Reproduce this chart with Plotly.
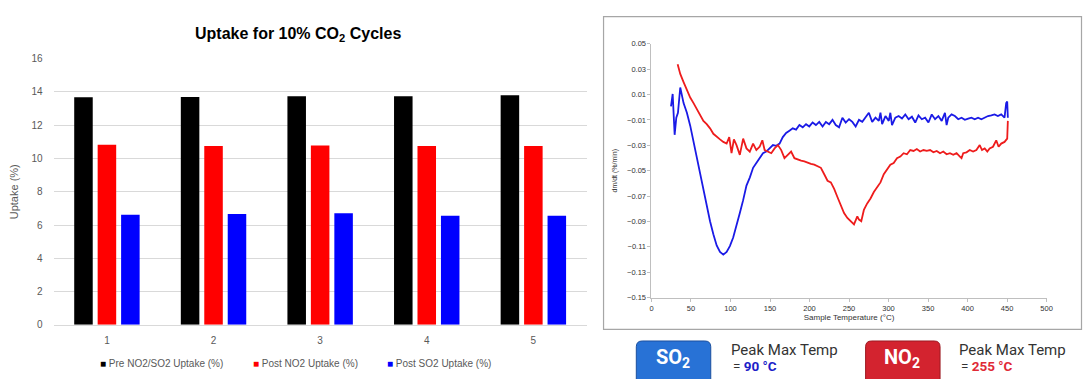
import plotly.graph_objects as go

W, H = 1088, 379

# ---------------- Left chart data ----------------
cycles = ["1", "2", "3", "4", "5"]
pre_uptake = [13.68, 13.70, 13.75, 13.75, 13.80]
post_no2_uptake = [10.82, 10.75, 10.78, 10.75, 10.75]
post_so2_uptake = [6.62, 6.66, 6.70, 6.56, 6.55]
series_names = ["Pre NO2/SO2 Uptake (%)", "Post NO2 Uptake (%)", "Post SO2 Uptake (%)"]
series_colors = ["#000000", "#ff0000", "#0000ff"]

# ---------------- Right chart data (DTG curves) ----------------
so2_temp = [24.7, 26.8, 29.3, 31.4, 33.5, 36.4, 40.6, 44.8, 49.0, 53.2, 57.4, 61.6, 65.7, 69.9,
            74.1, 78.3, 82.5, 86.7, 90.9, 95.1, 99.2, 103.4, 107.6, 111.8, 116.0, 120.2, 124.4,
            128.6, 132.7, 136.9, 141.1, 145.3, 149.5, 153.7, 157.9, 162.1, 166.2, 170.4, 174.6,
            178.8, 183.0, 187.2, 191.4, 195.6, 199.7, 203.9, 208.1, 212.3, 216.5, 220.7, 224.9,
            229.1, 233.2, 237.4, 241.6, 245.8, 250.0, 254.2, 258.4, 262.6, 266.8, 270.9, 275.1,
            279.3, 283.5, 287.7, 289.8, 291.9, 296.1, 300.3, 302.3, 304.4, 308.6, 312.8, 317.0,
            321.2, 325.4, 329.6, 333.8, 337.9, 342.1, 346.3, 350.5, 354.7, 358.9, 363.1, 367.3,
            371.4, 373.5, 375.6, 379.8, 384.0, 388.2, 392.4, 396.6, 400.8, 404.9, 409.1, 413.3,
            417.5, 421.7, 425.9, 430.1, 434.2, 438.4, 442.6, 446.8, 448.9, 450.2, 451.0]
so2_dmdt = [0.0008, 0.0105, -0.0217, -0.0082, -0.0043, 0.0156, 0.0033, -0.0043, -0.0145, -0.0273,
            -0.0401, -0.0528, -0.0656, -0.0783, -0.0898, -0.1000, -0.1089, -0.1140, -0.1161,
            -0.1140, -0.1094, -0.1026, -0.0936, -0.0834, -0.0732, -0.0617, -0.0554, -0.0477,
            -0.0439, -0.0395, -0.0362, -0.0349, -0.0324, -0.0298, -0.0304, -0.0286, -0.0235,
            -0.0202, -0.0184, -0.0166, -0.0176, -0.0140, -0.0158, -0.0133, -0.0151, -0.0120,
            -0.0140, -0.0115, -0.0151, -0.0115, -0.0133, -0.0099, -0.0140, -0.0158, -0.0082,
            -0.0120, -0.0094, -0.0115, -0.0151, -0.0099, -0.0115, -0.0082, -0.0043, -0.0115,
            -0.0082, -0.0107, -0.0043, -0.0133, -0.0069, -0.0107, -0.0043, -0.0140, -0.0082,
            -0.0069, -0.0089, -0.0056, -0.0094, -0.0074, -0.0120, -0.0064, -0.0094, -0.0082,
            -0.0120, -0.0056, -0.0094, -0.0069, -0.0107, -0.0043, -0.0140, -0.0082, -0.0056,
            -0.0069, -0.0094, -0.0082, -0.0099, -0.0089, -0.0082, -0.0094, -0.0082, -0.0094,
            -0.0082, -0.0069, -0.0064, -0.0056, -0.0069, -0.0056, -0.0082, 0.0033, 0.0046, -0.0082]

no2_temp = [33.1, 36.4, 40.6, 44.8, 49.0, 53.2, 57.4, 61.6, 65.7, 69.9, 74.1, 78.3, 82.5, 86.7,
            90.9, 95.1, 98.4, 101.3, 104.3, 107.6, 111.8, 116.0, 120.2, 124.4, 128.6, 132.7,
            136.9, 140.3, 143.2, 147.4, 151.6, 155.8, 160.0, 164.2, 168.3, 172.5, 176.7, 180.9,
            185.1, 189.3, 193.5, 197.7, 201.8, 206.0, 210.2, 214.4, 218.6, 222.8, 227.0, 231.2,
            235.3, 239.5, 243.7, 247.9, 252.1, 256.3, 260.5, 262.6, 265.5, 268.8, 273.0, 277.2,
            281.4, 285.6, 289.8, 294.0, 298.2, 302.3, 306.5, 310.7, 314.9, 319.1, 323.3, 327.5,
            331.7, 335.8, 340.0, 344.2, 348.4, 352.6, 356.8, 361.0, 365.2, 369.3, 373.5, 377.7,
            381.9, 386.1, 390.3, 392.4, 394.5, 398.7, 402.8, 407.0, 411.2, 415.4, 418.3, 421.7,
            425.0, 428.0, 432.2, 436.3, 439.3, 442.6, 446.8, 450.2, 451.0]
no2_dmdt = [0.0339, 0.0263, 0.0199, 0.0135, 0.0077, 0.0033, -0.0018, -0.0069, -0.0107, -0.0133,
            -0.0166, -0.0209, -0.0235, -0.0253, -0.0273, -0.0286, -0.0235, -0.0362, -0.0253,
            -0.0298, -0.0375, -0.0247, -0.0324, -0.0349, -0.0286, -0.0337, -0.0311, -0.0260,
            -0.0337, -0.0349, -0.0362, -0.0324, -0.0298, -0.0337, -0.0401, -0.0375, -0.0349,
            -0.0401, -0.0413, -0.0421, -0.0426, -0.0439, -0.0446, -0.0452, -0.0464, -0.0477,
            -0.0528, -0.0579, -0.0592, -0.0643, -0.0707, -0.0770, -0.0834, -0.0872, -0.0898,
            -0.0923, -0.0860, -0.0885, -0.0898, -0.0809, -0.0758, -0.0719, -0.0668, -0.0630,
            -0.0592, -0.0528, -0.0490, -0.0452, -0.0439, -0.0401, -0.0388, -0.0362, -0.0370,
            -0.0337, -0.0344, -0.0329, -0.0349, -0.0337, -0.0344, -0.0337, -0.0355, -0.0344,
            -0.0362, -0.0349, -0.0370, -0.0362, -0.0375, -0.0362, -0.0388, -0.0401, -0.0362,
            -0.0355, -0.0337, -0.0349, -0.0337, -0.0298, -0.0337, -0.0324, -0.0349, -0.0324,
            -0.0311, -0.0260, -0.0311, -0.0286, -0.0273, -0.0247, -0.0107]

peak_so2 = "90 °C"
peak_no2 = "255 °C"


def px(x):
    return x / W


def py(y):
    return 1 - y / H


fig = go.Figure()

for name, vals, col in zip(series_names, [pre_uptake, post_no2_uptake, post_so2_uptake], series_colors):
    fig.add_trace(go.Bar(x=cycles, y=vals, name=name, marker=dict(color=col, line=dict(width=0)),
                         xaxis="x", yaxis="y", showlegend=False))

fig.add_trace(go.Scatter(x=so2_temp, y=so2_dmdt, mode="lines", line=dict(color="#1a1ae6", width=1.8),
                         xaxis="x2", yaxis="y2", showlegend=False, name="SO2"))
fig.add_trace(go.Scatter(x=no2_temp, y=no2_dmdt, mode="lines", line=dict(color="#ee1c1c", width=1.8),
                         xaxis="x2", yaxis="y2", showlegend=False, name="NO2"))

tick_font_left = dict(family="Liberation Sans, Arial", size=10, color="#595959")
tick_font_right = dict(family="Liberation Sans, Arial", size=7.5, color="#333333")

fig.update_layout(
    width=W, height=H, autosize=False,
    margin=dict(l=0, r=0, t=0, b=0),
    paper_bgcolor="white", plot_bgcolor="white",
    barmode="group", bargap=0.34, bargroupgap=0.21,
    xaxis=dict(domain=[px(52), px(589)], anchor="y", showgrid=False, showline=True,
               linecolor="#d9d9d9", linewidth=1, ticks="", tickfont=tick_font_left,
               ticklabelstandoff=6, fixedrange=True),
    yaxis=dict(domain=[py(328.3), py(54.3)], anchor="x", range=[0, 16], dtick=2,
               showgrid=True, gridcolor="#d9d9d9", gridwidth=1, zeroline=False,
               showline=False, ticks="", tickfont=tick_font_left, ticklabelstandoff=10,
               title=dict(text="Uptake (%)", font=dict(family="Liberation Sans, Arial", size=11,
                                                        color="#595959"), standoff=10)),
    xaxis2=dict(domain=[px(654.3), px(1052.3)], anchor="y2", range=[0, 500], dtick=50,
                showgrid=False, zeroline=False, showline=True, linecolor="#bfbfbf", linewidth=1,
                ticks="outside", ticklen=3, tickcolor="#bfbfbf", tickfont=tick_font_right,
                title=dict(text="Sample Temperature (°C)",
                           font=dict(family="Liberation Sans, Arial", size=8, color="#333333"),
                           standoff=2)),
    yaxis2=dict(domain=[py(300.3), py(39)], anchor="x2", range=[-0.15, 0.05], tick0=0.05,
                dtick=0.02, tickformat=".2f", showgrid=False, zeroline=False, showline=True,
                linecolor="#bfbfbf", linewidth=1, ticks="outside", ticklen=3, tickcolor="#bfbfbf",
                tickfont=tick_font_right,
                title=dict(text="dm/dt (%/min)",
                           font=dict(family="Liberation Sans, Arial", size=7, color="#333333"),
                           standoff=8)),
)

ann = []
# Left title
ann.append(dict(x=px(298), y=py(29), xref="paper", yref="paper", showarrow=False,
                text="<b>Uptake for 10% CO<sub>2</sub> Cycles</b>",
                font=dict(family="Liberation Sans, Arial", size=16, color="#000000"),
                xanchor="center", yanchor="middle"))
# Manual legend for bars
legend_x = [97, 251, 386]
for lx, name, col in zip(legend_x, series_names, series_colors):
    ann.append(dict(x=px(lx), y=py(368), xref="paper", yref="paper", showarrow=False,
                    text=f"<span style='color:{col}'>■</span> {name}",
                    font=dict(family="Liberation Sans, Arial", size=10, color="#595959"),
                    xanchor="left", yanchor="middle"))

# Bottom peak labels
label_font = dict(family="Roboto, Liberation Sans", size=15, color="#333333")
ann.append(dict(x=px(676), y=py(363), xref="paper", yref="paper", showarrow=False,
                text="<b>SO<sub>2</sub></b>", font=dict(family="Roboto", size=20, color="white"),
                xanchor="center", yanchor="middle"))
ann.append(dict(x=px(907), y=py(363), xref="paper", yref="paper", showarrow=False,
                text="<b>NO<sub>2</sub></b>", font=dict(family="Roboto", size=20, color="white"),
                xanchor="center", yanchor="middle"))
ann.append(dict(x=px(732), y=py(354), xref="paper", yref="paper", showarrow=False,
                text="Peak Max Temp", font=label_font, xanchor="left", yanchor="middle"))
ann.append(dict(x=px(734), y=py(371), xref="paper", yref="paper", showarrow=False,
                text=f"= <b><span style='color:#1d1dc8'>{peak_so2}</span></b>",
                font=dict(family="Roboto, Liberation Sans", size=13.5, color="#333333"),
                xanchor="left", yanchor="middle"))
ann.append(dict(x=px(962), y=py(354), xref="paper", yref="paper", showarrow=False,
                text="Peak Max Temp", font=label_font, xanchor="left", yanchor="middle"))
ann.append(dict(x=px(964), y=py(371), xref="paper", yref="paper", showarrow=False,
                text=f"= <b><span style='color:#e02a36'>{peak_no2}</span></b>",
                font=dict(family="Roboto, Liberation Sans", size=13.5, color="#333333"),
                xanchor="left", yanchor="middle"))
fig.update_layout(annotations=ann)


def rounded_top_box(x0, x1, y0, y1, r):
    X0, X1 = px(x0), px(x1)
    Y0, Y1 = py(y0), py(y1)
    rx, ry = r / W, r / H
    return (f"M {X0},{Y1} L {X0},{Y0 - ry} Q {X0},{Y0} {X0 + rx},{Y0} "
            f"L {X1 - rx},{Y0} Q {X1},{Y0} {X1},{Y0 - ry} L {X1},{Y1} Z")


shapes = [
    dict(type="rect", xref="paper", yref="paper", x0=px(606), x1=px(1087.5), y0=py(333), y1=py(11),
         line=dict(color="#a6a6a6", width=1.2), fillcolor="rgba(0,0,0,0)", layer="below"),
    dict(type="path", xref="paper", yref="paper", path=rounded_top_box(639, 714, 345, 385, 6),
         fillcolor="#2872d6", line=dict(color="#1b4f9e", width=1)),
    dict(type="path", xref="paper", yref="paper", path=rounded_top_box(870, 945, 345, 385, 6),
         fillcolor="#d3232f", line=dict(color="#9c1a22", width=1)),
]
fig.update_layout(shapes=shapes)

fig.write_html("out.html", config={"displayModeBar": False},
               post_script="document.body.style.margin='0px';")
